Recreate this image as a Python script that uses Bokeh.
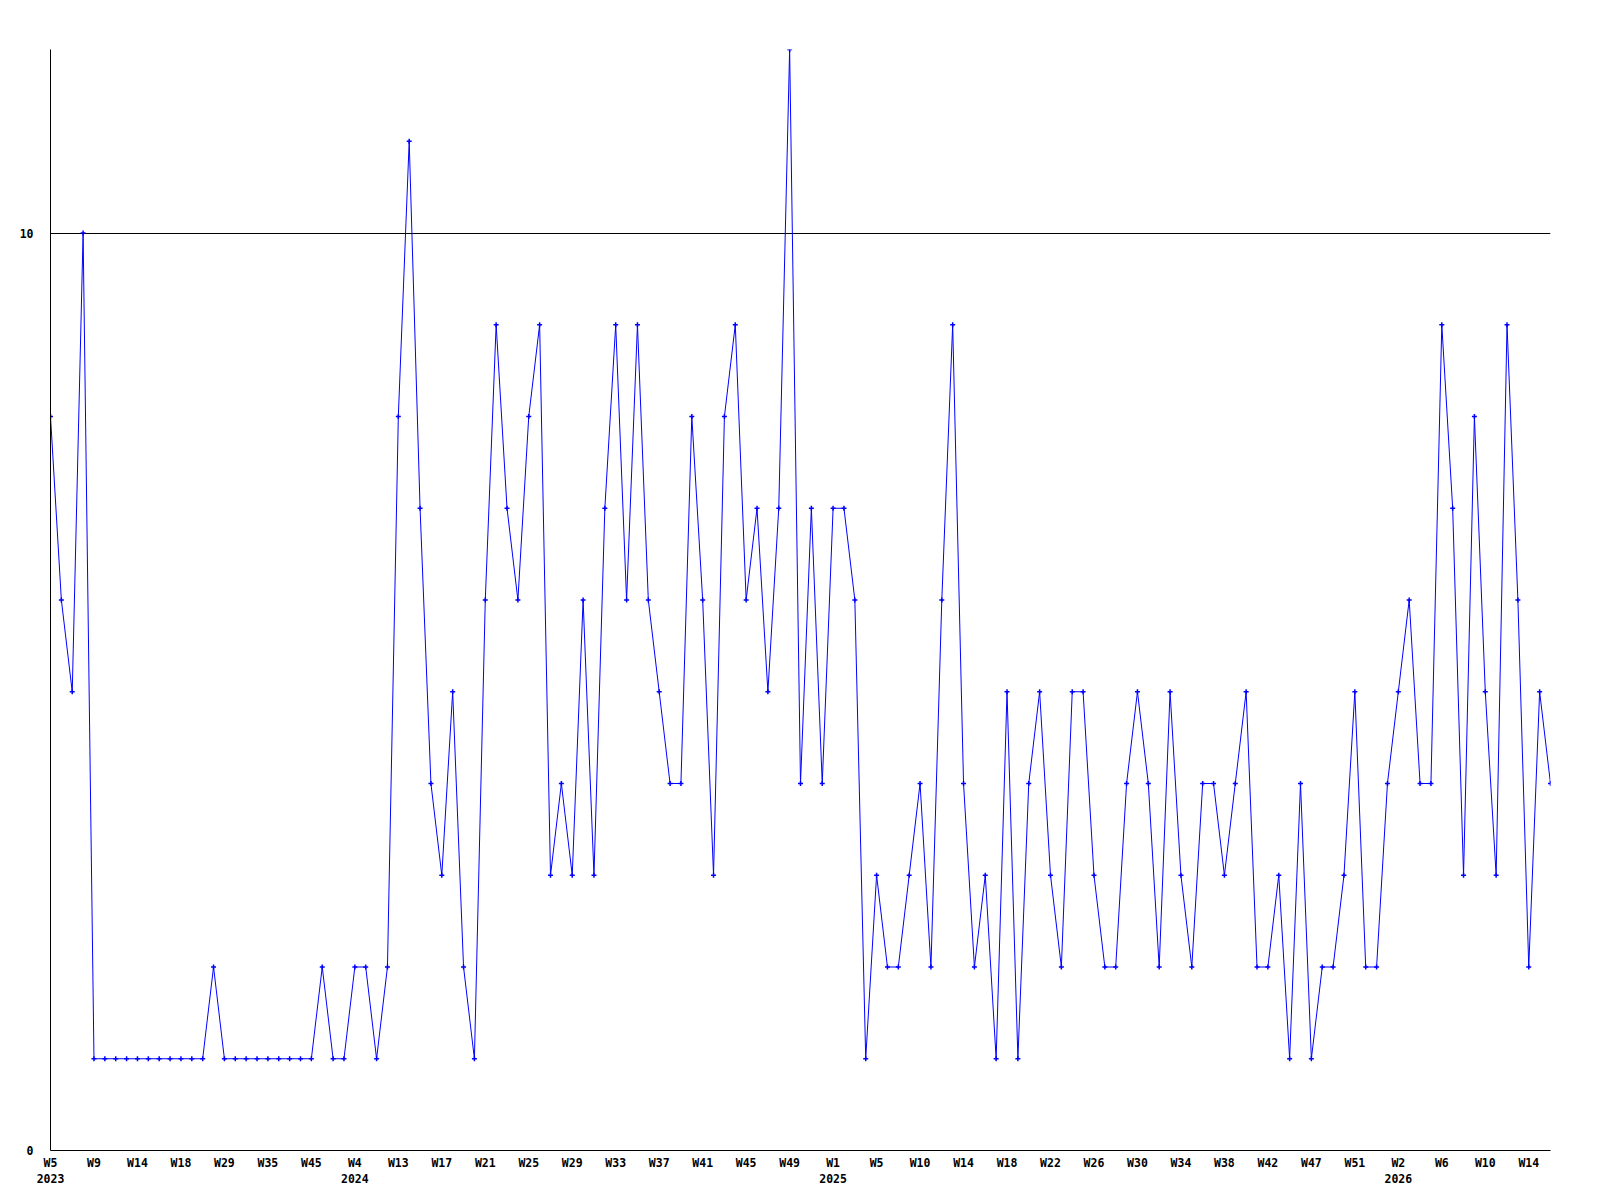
from bokeh.plotting import figure
from bokeh.models import Range1d, FixedTicker
from bokeh.embed import file_html
from bokeh.resources import INLINE

values = [8, 6, 5, 10, 1, 1, 1, 1, 1, 1, 1, 1, 1, 1, 1, 2, 1, 1, 1, 1, 1, 1, 1, 1, 1, 2,
          1, 1, 2, 2, 1, 2, 8, 11, 7, 4, 3, 5, 2, 1, 6, 9, 7, 6, 8, 9, 3, 4, 3, 6, 3, 7,
          9, 6, 9, 6, 5, 4, 4, 8, 6, 3, 8, 9, 6, 7, 5, 7, 12, 4, 7, 4, 7, 7, 6, 1, 3, 2,
          2, 3, 4, 2, 6, 9, 4, 2, 3, 1, 5, 1, 4, 5, 3, 2, 5, 5, 3, 2, 2, 4, 5, 4, 2, 5,
          3, 2, 4, 4, 3, 4, 5, 2, 2, 3, 1, 4, 1, 2, 2, 3, 5, 2, 2, 4, 5, 6, 4, 4, 9, 7,
          3, 8, 5, 3, 9, 6, 2, 5, 4]

week_labels = ["W5", "W9", "W14", "W18", "W29", "W35", "W45", "W4", "W13", "W17", "W21",
               "W25", "W29", "W33", "W37", "W41", "W45", "W49", "W1", "W5", "W10", "W14",
               "W18", "W22", "W26", "W30", "W34", "W38", "W42", "W47", "W51", "W2", "W6",
               "W10", "W14"]
year_labels = {0: "2023", 7: "2024", 18: "2025", 31: "2026"}
y_ticks = [0, 10]
threshold = [10]
label_step = 4

x = list(range(len(values)))
tick_pos = list(range(0, len(values), label_step))
overrides = {}
for i, t in enumerate(tick_pos):
    lab = week_labels[i]
    if i in year_labels:
        lab = lab + "\n" + year_labels[i]
    overrides[t] = lab

FONT = "DejaVu Sans Mono"

p = figure(width=1590, height=1190, output_backend="svg", toolbar_location=None,
           x_range=Range1d(0, len(values) - 1), y_range=Range1d(0, 12),
           min_border_left=50, min_border_right=40, min_border_top=49, min_border_bottom=40)
p.outline_line_color = None
p.background_fill_color = "white"
p.border_fill_color = "white"

p.line(x, values, line_color="#0000FF", line_width=1)
p.scatter(x, values, marker="cross", size=5, line_color="#0000FF", line_width=1.5)

p.xaxis.ticker = FixedTicker(ticks=tick_pos)
p.xaxis.major_label_overrides = overrides
p.yaxis.ticker = FixedTicker(ticks=y_ticks)

for ax in (p.xaxis[0], p.yaxis[0]):
    ax.axis_line_color = "black"
    ax.axis_line_width = 1
    ax.major_tick_line_color = None
    ax.minor_tick_line_color = None
    ax.major_tick_out = 0
    ax.major_tick_in = 0
    ax.major_label_text_font = FONT
    ax.major_label_text_font_style = "bold"
    ax.major_label_text_font_size = "11.5px"
    ax.major_label_text_color = "black"
    ax.major_label_text_line_height = 1.15

p.xaxis.major_label_standoff = 5
p.yaxis.major_label_standoff = 17

p.xgrid.grid_line_color = None
p.ygrid.ticker = FixedTicker(ticks=threshold)
p.ygrid.grid_line_color = "black"
p.ygrid.grid_line_width = 1
p.ygrid.grid_line_alpha = 1.0

open("out.html", "w").write(file_html(p, INLINE))
